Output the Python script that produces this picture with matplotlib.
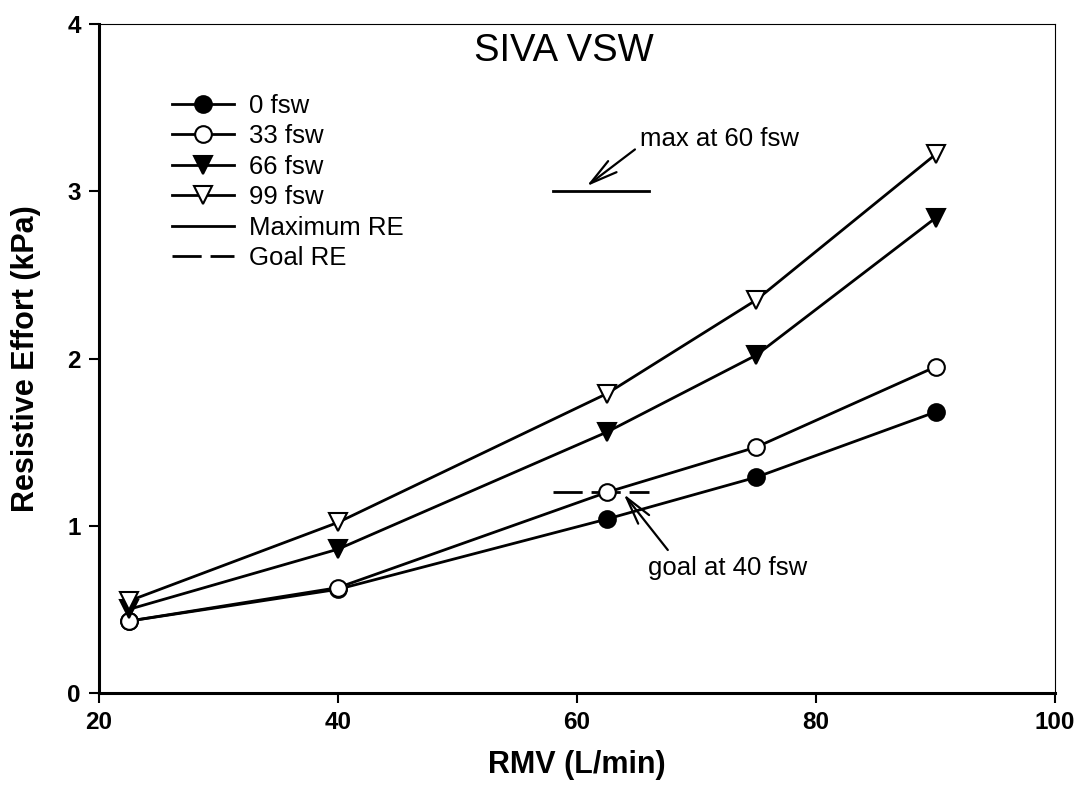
import matplotlib
matplotlib.use('Agg')
import matplotlib.pyplot as plt

plt.rcParams['font.family'] = ['Liberation Sans', 'DejaVu Sans']

# ---- datos ----
rmv = [22.5, 40, 62.5, 75, 90]
re_0fsw = [0.43, 0.62, 1.04, 1.29, 1.68]
re_33fsw = [0.43, 0.63, 1.20, 1.47, 1.95]
re_66fsw = [0.50, 0.86, 1.56, 2.02, 2.84]
re_99fsw = [0.55, 1.02, 1.79, 2.35, 3.22]

max_re_x = [58, 66]
max_re_y = [3.0, 3.0]
goal_re_x = [58, 66]
goal_re_y = [1.2, 1.2]

x_ticks = [20, 40, 60, 80, 100]
y_ticks = [0, 1, 2, 3, 4]

# ---- figura ----
fig = plt.figure(figsize=(10.81, 7.94), dpi=100)
ax = fig.add_axes([99 / 1081, 1 - 693 / 794, (1055 - 99) / 1081, (693 - 24) / 794])

lw = 2.0
ms = 12
ax.plot(rmv, re_0fsw, color='black', lw=lw, marker='o', ms=ms,
        mfc='black', mec='black', mew=1.5, label='0 fsw', zorder=3)
ax.plot(rmv, re_33fsw, color='black', lw=lw, marker='o', ms=ms,
        mfc='white', mec='black', mew=1.5, label='33 fsw', zorder=3)
ax.plot(rmv, re_66fsw, color='black', lw=lw, marker='v', ms=ms + 1,
        mfc='black', mec='black', mew=1.5, label='66 fsw', zorder=3)
ax.plot(rmv, re_99fsw, color='black', lw=lw, marker='v', ms=ms + 1,
        mfc='white', mec='black', mew=1.5, label='99 fsw', zorder=3)
ax.plot(max_re_x, max_re_y, color='black', lw=lw, label='Maximum RE')
ax.plot(goal_re_x, goal_re_y, color='black', lw=lw,
        linestyle=(0, (10.5, 3.2)), label='Goal RE')

# anotaciones
ax.annotate('', xy=(60.8, 3.03), xytext=(64.85, 3.25),
            arrowprops=dict(arrowstyle='->,head_length=1.0,head_width=0.25',
                            mutation_scale=20, lw=1.6, color='black',
                            shrinkA=0, shrinkB=0))
ax.text(65.3, 3.31, 'max at 60 fsw', fontsize=18.5, ha='left', va='center')

ax.annotate('', xy=(63.9, 1.19), xytext=(67.6, 0.855),
            arrowprops=dict(arrowstyle='->,head_length=1.0,head_width=0.25',
                            mutation_scale=20, lw=1.6, color='black',
                            shrinkA=0, shrinkB=0))
ax.text(65.9, 0.75, 'goal at 40 fsw', fontsize=18.5, ha='left', va='center')

ax.text(58.9, 3.84, 'SIVA VSW', fontsize=27.5, ha='center', va='center')

# ejes
ax.set_xlim(20, 100)
ax.set_ylim(0, 4)
ax.set_xticks(x_ticks)
ax.set_yticks(y_ticks)
ax.tick_params(direction='out', length=7, width=1.5, labelsize=17.5, pad=6)
for lab in ax.get_xticklabels() + ax.get_yticklabels():
    lab.set_fontweight('bold')

ax.spines['left'].set_linewidth(2.2)
ax.spines['bottom'].set_linewidth(2.2)
ax.spines['top'].set_linewidth(0.8)
ax.spines['right'].set_linewidth(0.8)

ax.set_xlabel('RMV (L/min)', fontsize=22, fontweight='bold', va='center')
ax.set_ylabel('Resistive Effort (kPa)', fontsize=22, fontweight='bold', va='center')
ax.xaxis.set_label_coords(0.5, -(765 - 693) / 669)
ax.yaxis.set_label_coords(-(99 - 26) / 956, 0.5)

ax.legend(loc='upper left', bbox_to_anchor=(172 / 1081, 1 - 94 / 794),
          bbox_transform=fig.transFigure, frameon=False, fontsize=18.5,
          borderpad=0, borderaxespad=0, handlelength=2.4, handletextpad=0.6,
          labelspacing=0.25)

plt.savefig('out.png', dpi=100)
